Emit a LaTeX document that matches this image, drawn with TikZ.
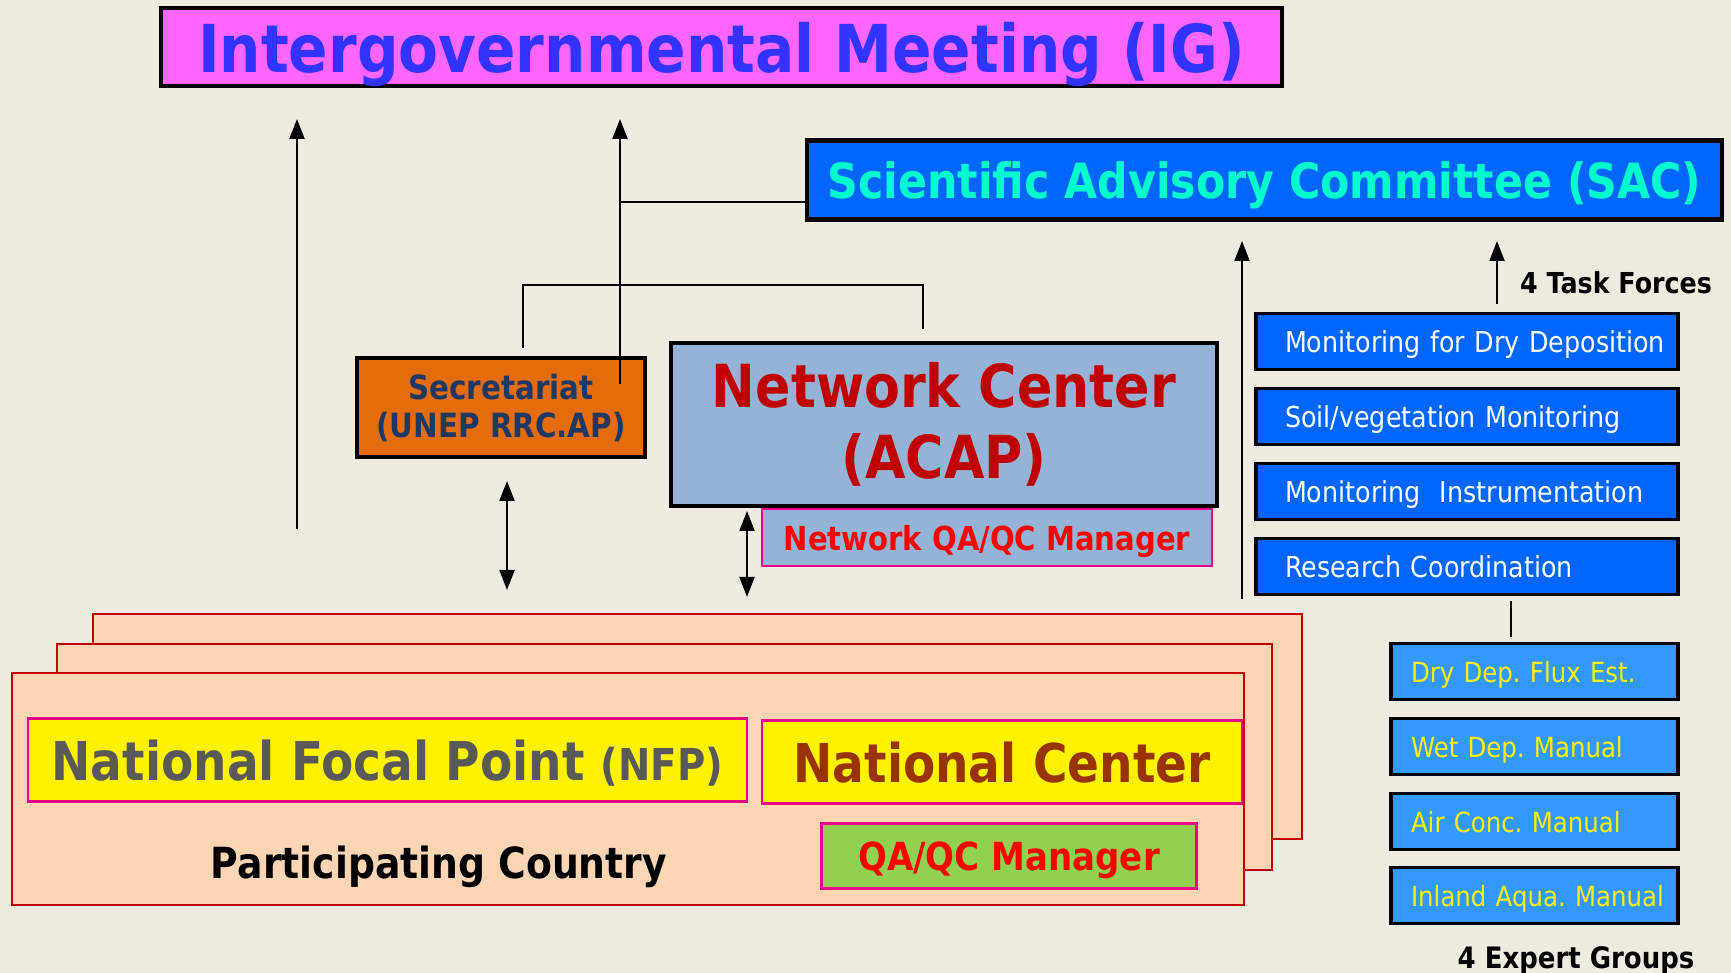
\documentclass[tikz,border=0pt]{standalone}
\usepackage{fontspec}
\setmainfont{DejaVu Sans}[FakeStretch=0.88]
\usepackage{xcolor}
\usetikzlibrary{positioning}
\usetikzlibrary{arrows.meta}
\frenchspacing

\definecolor{bgbeige}{RGB}{238,236,225}
\definecolor{igpink}{RGB}{255,102,255}
\definecolor{igblue}{RGB}{51,51,255}
\definecolor{sacblue}{RGB}{0,102,255}
\definecolor{sactext}{RGB}{0,255,204}
\definecolor{secorange}{RGB}{228,108,10}
\definecolor{secnavy}{RGB}{31,56,100}
\definecolor{ncblue}{RGB}{149,179,215}
\definecolor{ncred}{RGB}{192,0,0}
\definecolor{egblue}{RGB}{51,153,255}
\definecolor{cntpeach}{RGB}{252,213,181}
\definecolor{nfpgray}{RGB}{89,89,89}
\definecolor{natbrown}{RGB}{153,51,0}
\definecolor{mgrgreen}{RGB}{146,208,80}

\begin{document}
\begin{tikzpicture}[
  x=0.1mm, y=-0.1mm,
  box/.style={draw, rectangle, inner sep=0pt, align=center},
  flat/.style={text depth=0pt},
  igbox/.style={box, flat, line width=1.1pt, fill=igpink, text=igblue, font=\fontsize{18.8}{22}\selectfont\bfseries, minimum width=112.1mm, minimum height=7.8mm},
  sacbox/.style={box, flat, line width=1.4pt, fill=sacblue, text=sactext, font=\fontsize{13.8}{16}\selectfont\bfseries, minimum width=91.5mm, minimum height=7.9mm},
  secbox/.style={box, line width=1.1pt, fill=secorange, text=secnavy, font=\fontsize{9.5}{10.8}\selectfont\bfseries, minimum width=28.8mm, minimum height=9.9mm},
  ncbox/.style={box, line width=1.1pt, fill=ncblue, text=ncred, font=\fontsize{16.9}{20.2}\selectfont\bfseries, minimum width=54.6mm, minimum height=16.3mm},
  nqabox/.style={box, flat, draw=magenta, line width=0.6pt, fill=ncblue, text=red, font=\fontsize{9.4}{11}\selectfont\bfseries, minimum width=45mm, minimum height=5.7mm},
  tfbox/.style={draw, flat, line width=1.1pt, fill=sacblue, text=white, font=\fontsize{8.2}{10}\selectfont, text width=41mm, inner xsep=0.6mm, inner ysep=0pt, minimum height=5.6mm, align=left, execute at begin node=\hspace*{2.3mm}},
  egbox/.style={draw, flat, line width=1.1pt, fill=egblue, text=yellow, font=\fontsize{7.9}{9.5}\selectfont, text width=28.1mm, inner xsep=0.3mm, inner ysep=0pt, minimum height=5.6mm, align=left, execute at begin node=\hspace*{1.7mm}},
  cntbox/.style={box, draw=ncred, line width=0.6pt, fill=cntpeach},
  nfpbox/.style={box, flat, draw=magenta, line width=0.6pt, fill=yellow, font=\fontsize{15.2}{18}\selectfont\bfseries, minimum height=8.3mm},
  mgrbox/.style={box, flat, draw=magenta, line width=0.6pt, fill=mgrgreen, text=red, font=\fontsize{11}{13}\selectfont\bfseries, minimum width=37.5mm, minimum height=6.5mm},
  caption/.style={flat, font=\bfseries, inner sep=0pt},
  arrow/.style={-{Triangle[length=2mm,width=1.5mm]}, line width=0.6pt},
  darrow/.style={{Triangle[length=2mm,width=1.5mm]}-{Triangle[length=2mm,width=1.5mm]}, line width=0.6pt},
  link/.style={line width=0.6pt}
]

% Page
\fill[bgbeige] (0,0) rectangle (1731,973);
\useasboundingbox (0,0) rectangle (1731,973);

% Top bodies
\node[igbox] (ig) at (721.5,47) {Intergovernmental Meeting (IG)};
\node[sacbox] (sac) at (1264.5,180) {Scientific Advisory Committee (SAC)};

% Secretariat and network center
\node[secbox] (sec) at (501,407.5) {\strut Secretariat\\(UNEP RRC.AP)};
\node[ncbox] (nc) at (944,424.5) {Network Center\\(ACAP)};
\node[nqabox] (nqa) at (987,537.5) {Network QA/QC Manager};

% Participating countries (stacked)
\node[cntbox, minimum width=120.9mm, minimum height=22.5mm] (cnt3) at (697.5,726.5) {};
\node[cntbox, minimum width=121.5mm, minimum height=22.6mm] (cnt2) at (664.5,757) {};
\node[cntbox, minimum width=123.2mm, minimum height=23.2mm] (cnt1) at (628,789) {};
\node[nfpbox, text=nfpgray, minimum width=71.9mm] (nfp) at (387.5,760)
  {National Focal Point {\fontsize{12.5}{15}\selectfont (NFP)}};
\node[nfpbox, text=natbrown, minimum width=48mm] (nat) at (1002,762) {National Center};
\node[mgrbox] (mgr) at (1009,856) {QA/QC Manager};
\node[caption, font=\fontsize{12.2}{14}\selectfont\bfseries] (pc) at (439,862) {Participating Country};

% Task forces
\node[tfbox] (tf1) at (1467,341.5) {Monitoring for Dry Deposition};
\node[tfbox] (tf2) at (1467,416.5) {Soil/vegetation Monitoring};
\node[tfbox] (tf3) at (1467,491.5) {Monitoring~~Instrumentation};
\node[tfbox] (tf4) at (1467,566.5) {Research Coordination};
\node[caption, font=\fontsize{8.2}{9.5}\selectfont\bfseries] (tfl) at (1616,283) {4 Task Forces};

% Expert groups
\node[egbox] (eg1) at (1534.5,671.5) {Dry Dep. Flux Est.};
\node[egbox] (eg2) at (1534.5,746.5) {Wet Dep. Manual};
\node[egbox] (eg3) at (1534.5,821.5) {Air Conc. Manual};
\node[egbox] (eg4) at (1534.5,895.5) {Inland Aqua. Manual};
\node[caption, font=\fontsize{8.4}{10}\selectfont\bfseries] (egl) at (1576,958) {4 Expert Groups};

% Reporting lines
\coordinate (cntTop) at (297,529);
\coordinate (igL) at (297,119);
\draw[arrow] (cntTop) -- (igL);
\coordinate (secIn) at (620,384);
\coordinate (igM) at (620,119);
\draw[arrow] (secIn) -- (igM);
\coordinate (sacJ) at (620,202);
\draw[link] (sac.west |- sacJ) -- (sacJ);
\coordinate (brL) at (523,348);
\coordinate (brR) at (923,329);
\draw[link] (brL) -- ++(0,-63) -| (brR);

% Country links
\coordinate (secB) at (507,481);
\coordinate (cntS) at (507,590);
\draw[darrow] (secB) -- (cntS);
\coordinate (ncB) at (747,511);
\coordinate (cntN) at (747,597);
\draw[darrow] (ncB) -- (cntN);

% SAC links
\coordinate (cntR) at (1242,599);
\coordinate (sacB) at (1242,241);
\draw[arrow] (cntR) -- (sacB);
\coordinate (sacT) at (1497,241);
\draw[arrow] (tf1.north -| sacT) ++(0,-8) -- (sacT);
\coordinate (egT) at (1511,637);
\draw[link] (tf4.south -| egT) ++(0,5) -- (egT);

\end{tikzpicture}
\end{document}
